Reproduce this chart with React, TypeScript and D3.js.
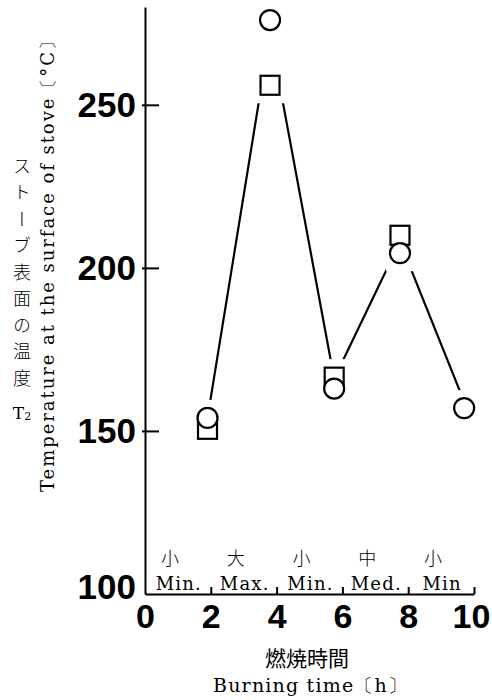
import React, { useRef, useEffect } from "react";
import * as d3 from "d3";

// burning time of each reading (h) and the measured stove surface temperatures
const hours = [1.9, 3.8, 5.75, 7.75, 9.7];
const circleTemps = [154, 276, 163, 204.5, 157];
const squareTemps: (number | null)[] = [150.5, 256, 166.5, 210, null];
const lineTemps = [154, 272, 166, 208, 159];

const yTicks = [100, 150, 200, 250];
const xTicks = [0, 2, 4, 6, 8, 10];

// fire setting per 2 h period
const periodStart = [0, 2, 4, 6, 8];
const periodJa = ["小", "大", "小", "中", "小"];
const periodEn = ["Min.", "Max.", "Min.", "Med.", "Min"];

const W = 492;
const H = 700;
const SERIF = "'DejaVu Serif', 'Liberation Serif', serif";
const SANS = "'Liberation Sans', Arial, sans-serif";
const CJK = "'Noto Sans CJK JP', sans-serif";

const App = () => {
  const axesRef = useRef<SVGGElement>(null);

  const x = d3.scaleLinear().domain([0, 10]).range([145, 474]);
  const y = d3.scaleLinear().domain([100, 280]).range([594, 7]);

  useEffect(() => {
    const g = d3.select(axesRef.current);
    g.selectAll("*").remove();

    const yAxis = d3
      .axisLeft(y)
      .tickValues(yTicks)
      .tickSize(-14)
      .tickSizeOuter(0)
      .tickPadding(9)
      .tickFormat(d3.format("d"));
    const yg = g
      .append("g")
      .attr("transform", `translate(${x(0)},0)`)
      .call(yAxis)
      .attr("font-family", SANS)
      .attr("font-size", 35)
      .attr("font-weight", "bold");
    yg.select(".domain").attr("stroke-width", 2);
    yg.selectAll(".tick line").attr("x1", -3).attr("stroke-width", 2);
    yg.selectAll(".tick")
      .filter((d) => d === 100)
      .call((t) => {
        t.select("line").remove();
        t.select("text").attr("dy", "0.12em");
      });

    const xAxis = d3
      .axisBottom(x)
      .tickValues(xTicks)
      .tickSize(-7)
      .tickSizeOuter(0)
      .tickPadding(10)
      .tickFormat(d3.format("d"));
    const xg = g
      .append("g")
      .attr("transform", `translate(0,${y(100)})`)
      .call(xAxis)
      .attr("font-family", SANS)
      .attr("font-size", 34)
      .attr("font-weight", "bold");
    xg.select(".domain").attr("stroke-width", 2);
    xg.selectAll(".tick line").attr("stroke-width", 2);
    xg.selectAll(".tick")
      .filter((d) => d === 0)
      .select("line")
      .remove();
    xg.selectAll(".tick")
      .filter((d) => d === 10)
      .select("text")
      .attr("dx", -3);
    g.selectAll("text").attr("fill", "#000");
  }, []);

  // gaps cut out of the line around each group of markers
  const r = 10;
  const gap = 8;
  const cuts = hours.map((h, i) => {
    const vals = [circleTemps[i], squareTemps[i]].filter((v) => v != null) as number[];
    const top = d3.min(vals.map((v) => y(v)))! - r - gap;
    const bottom = d3.max(vals.map((v) => y(v)))! + r + gap;
    return { x: x(h) - 14, y: top, w: 28, h: bottom - top };
  });

  const linePath = d3
    .line<number>()
    .x((_, i) => x(hours[i]))
    .y((v) => y(v))(lineTemps);

  return (
    <div style={{ position: "absolute", left: 0, top: 0 }}>
      <svg width={W} height={H} style={{ display: "block", background: "#fff" }}>
        <defs>
          <mask id="cut">
            <rect x={0} y={0} width={W} height={H} fill="#fff" />
            {cuts.map((c, i) => (
              <rect key={i} x={c.x} y={c.y} width={c.w} height={c.h} fill="#000" />
            ))}
          </mask>
        </defs>

        <g ref={axesRef} />

        <path
          d={linePath ?? ""}
          fill="none"
          stroke="#000"
          strokeWidth={2.2}
          mask="url(#cut)"
        />

        {squareTemps.map((v, i) =>
          v == null ? null : (
            <rect
              key={"s" + i}
              x={x(hours[i]) - 9.5}
              y={y(v) - 9.5}
              width={19}
              height={19}
              fill="none"
              stroke="#000"
              strokeWidth={2.2}
            />
          )
        )}
        {circleTemps.map((v, i) => (
          <circle
            key={"c" + i}
            cx={x(hours[i])}
            cy={y(v)}
            r={r}
            fill="#fff"
            stroke="#000"
            strokeWidth={2.2}
          />
        ))}

        {periodStart.map((s, i) => (
          <g key={"p" + i}>
            <text
              x={x(s + 1) - 8}
              y={565}
              textAnchor="middle"
              fontFamily={CJK}
              fontSize={18}
              fontWeight={300}
            >
              {periodJa[i]}
            </text>
            <text
              x={x(s + 1) + 1}
              y={590}
              textAnchor="middle"
              fontFamily={SERIF}
              fontSize={18}
              letterSpacing={1.2}
            >
              {periodEn[i]}
            </text>
          </g>
        ))}

        <text
          x={22}
          y={157}
          fontFamily={CJK}
          fontSize={18}
          fontWeight={300}
          style={{ writingMode: "vertical-rl", letterSpacing: "8.5px" }}
        >
          ストーブ表面の温度
        </text>
        <text x={22} y={419} textAnchor="middle" fontFamily={SERIF} fontSize={17}>
          T
          <tspan fontSize={11} dy={1}>
            2
          </tspan>
        </text>

        <text
          transform="translate(54,262) rotate(-90)"
          textAnchor="middle"
          fontFamily={SERIF}
          fontSize={18}
          textLength={460}
          lengthAdjust="spacing"
        >
          Temperature at the surface of stove〔°C〕
        </text>

        <text x={307} y={666} textAnchor="middle" fontFamily={CJK} fontSize={21}>
          燃焼時間
        </text>
        <text
          x={310}
          y={692}
          textAnchor="middle"
          fontFamily={SERIF}
          fontSize={19}
          textLength={194}
          lengthAdjust="spacing"
        >
          Burning time〔h〕
        </text>
      </svg>
    </div>
  );
};

export default App;
